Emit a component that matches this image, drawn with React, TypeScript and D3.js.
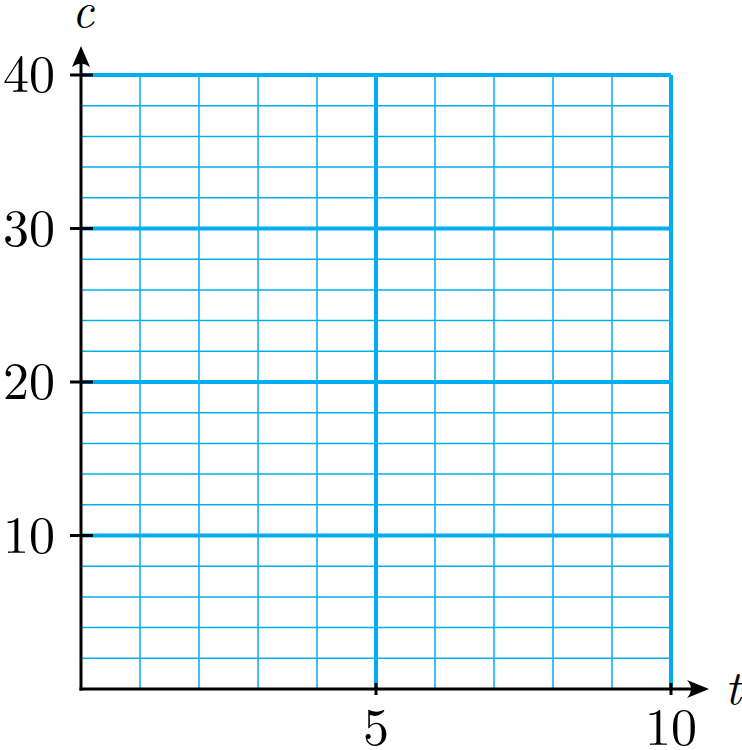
import * as d3 from "d3";

const xMajor = [5, 10];
const yMajor = [10, 20, 30, 40];
const xMinor = [1, 2, 3, 4, 6, 7, 8, 9];
const yMinor = [2, 4, 6, 8, 12, 14, 16, 18, 22, 24, 26, 28, 32, 34, 36, 38];
const xTickLabels = ["5", "10"];
const yTickLabels = ["10", "20", "30", "40"];

const width = 742;
const height = 750;
const blue = "#00aeef";
const font = "'Latin Modern Roman', 'CMU Serif', 'DejaVu Serif', serif";

export default function App() {
  const x = d3.scaleLinear().domain([0, 10]).range([81, 671]);
  const y = d3.scaleLinear().domain([0, 40]).range([689, 75]);

  return (
    <svg
      width={width}
      height={height}
      style={{ position: "absolute", left: 0, top: 0, background: "#fff" }}
    >
      {/* minor grid */}
      {xMinor.map((v) => (
        <line key={`xm${v}`} x1={x(v)} x2={x(v)} y1={y(0)} y2={y(40)} stroke={blue} strokeWidth={1.5} />
      ))}
      {yMinor.map((v) => (
        <line key={`ym${v}`} x1={x(0)} x2={x(10)} y1={y(v)} y2={y(v)} stroke={blue} strokeWidth={1.5} />
      ))}
      {/* major grid */}
      {xMajor.map((v) => (
        <line key={`xM${v}`} x1={x(v)} x2={x(v)} y1={y(0)} y2={y(40)} stroke={blue} strokeWidth={4} />
      ))}
      {yMajor.map((v) => (
        <line key={`yM${v}`} x1={x(0)} x2={x(10)} y1={y(v)} y2={y(v)} stroke={blue} strokeWidth={4} />
      ))}
      {/* axes */}
      <line x1={x(0) - 1.5} x2={x(10) + 32} y1={y(0)} y2={y(0)} stroke="#000" strokeWidth={3} />
      <line x1={x(0)} x2={x(0)} y1={y(0) + 1.5} y2={y(40) - 22} stroke="#000" strokeWidth={3} />
      <path
        d={`M${x(10) + 38},${y(0)} L${x(10) + 16},${y(0) - 9} Q${x(10) + 24},${y(0)} ${x(10) + 16},${y(0) + 9} Z`}
        fill="#000"
      />
      <path
        d={`M${x(0)},${y(40) - 29} L${x(0) - 9},${y(40) - 8} Q${x(0)},${y(40) - 15} ${x(0) + 9},${y(40) - 8} Z`}
        fill="#000"
      />
      {/* ticks */}
      {yMajor.map((v) => (
        <line key={`yt${v}`} x1={x(0) - 11} x2={x(0) + 12} y1={y(v)} y2={y(v)} stroke="#000" strokeWidth={3} />
      ))}
      {xMajor.map((v) => (
        <line key={`xt${v}`} x1={x(v)} x2={x(v)} y1={y(0) - 6} y2={y(0) + 6} stroke="#000" strokeWidth={3} />
      ))}
      {/* labels */}
      {yMajor.map((v, i) => (
        <text key={`yl${v}`} x={55} y={y(v) + 17} textAnchor="end" fontFamily={font} fontSize={52}>
          {yTickLabels[i]}
        </text>
      ))}
      {xMajor.map((v, i) => (
        <text key={`xl${v}`} x={x(v)} y={745} textAnchor="middle" fontFamily={font} fontSize={52}>
          {xTickLabels[i]}
        </text>
      ))}
      <text x={83} y={27} textAnchor="middle" fontFamily={font} fontStyle="italic" fontSize={48}>c</text>
      <text x={733} y={704} textAnchor="middle" fontFamily={font} fontStyle="italic" fontSize={48}>t</text>
    </svg>
  );
}
